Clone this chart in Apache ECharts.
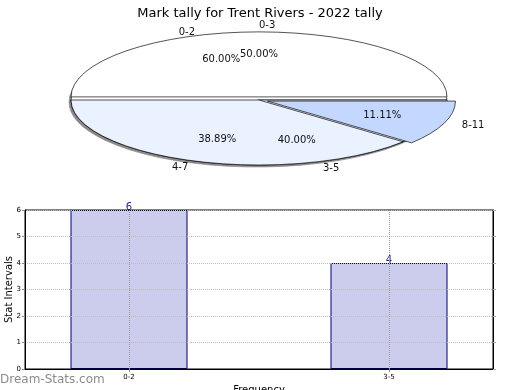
<!DOCTYPE html>
<html><head><meta charset="utf-8">
<script src="https://cdn.jsdelivr.net/npm/echarts@6/dist/echarts.min.js"></script>
<style>html,body{margin:0;padding:0;background:#fff}#c{width:520px;height:390px}</style>
</head><body><div id="c"></div>
<script>
const chartTitle = 'Mark tally for Trent Rivers - 2022 tally';
const pieACats = ['0-2', '3-5'];
const pieAVals = [6, 4];
const pieBCats = ['0-3', '4-7', '8-11'];
const pieBVals = [9, 7, 2];
const barCats = ['0-2', '3-5'];
const barVals = [6, 4];
const barPos = [0, 1];

const FONT = 'DejaVu Sans';
const CX = 259, CY = 100, RX = 188, RY = 65;
const K = RY / RX;
const rad = d => d * Math.PI / 180;

function makePie(cats, vals, colors, explode, withShadow) {
  const total = vals.reduce((a, b) => a + b, 0);
  const starts = [];
  let acc = 0;
  vals.forEach(v => { starts.push(acc); acc += v; });
  return {
    type: 'custom',
    coordinateSystem: 'none',
    silent: true,
    data: vals.map((v, i) => [v, starts[i]]),
    renderItem(params, api) {
      const i = params.dataIndex;
      const v = api.value(0), s = api.value(1);
      const a1 = s / total * 360, a2 = (s + v) / total * 360, am = (a1 + a2) / 2;
      const ca = Math.cos(rad(am)), sa = Math.sin(rad(am));
      const e = explode[i];
      const cx = CX + ca * e, cy = CY - sa * e * K;
      const pct = (v / total * 100).toFixed(2) + '%';
      const children = [];
      if (withShadow) {
        children.push({
          type: 'group', x: cx - 2, y: cy + 2, scaleY: K, z2: -10,
          children: [{
            type: 'sector', z2: -10,
            shape: { cx: 0, cy: 0, r0: 0, r: RX, startAngle: -rad(a1), endAngle: -rad(a2), clockwise: false },
            style: { fill: '#8a8a8a', stroke: '#8a8a8a', lineWidth: 1, strokeNoScale: true }
          }]
        });
      }
      children.push({
        type: 'group', x: cx, y: cy, scaleY: K,
        children: [{
          type: 'sector',
          shape: { cx: 0, cy: 0, r0: 0, r: RX, startAngle: -rad(a1), endAngle: -rad(a2), clockwise: false },
          style: { fill: colors[i], stroke: '#000', lineWidth: 1, strokeNoScale: true }
        }]
      });
      children.push({
        type: 'text', z2: 100,
        x: cx + ca * RX * 0.65, y: cy - sa * RY * 0.65,
        style: { text: pct, font: '10px "' + FONT + '"', fill: '#111', align: 'center', verticalAlign: 'middle' }
      });
      children.push({
        type: 'text', z2: 100,
        x: cx + ca * RX * 1.1, y: cy - sa * RY * 1.1,
        style: { text: cats[i], font: '10px "' + FONT + '"', fill: '#111', align: ca > -1e-9 ? 'left' : 'right', verticalAlign: 'middle' }
      });
      return { type: 'group', children };
    }
  };
}

const chart = echarts.init(document.getElementById('c'), null, { renderer: 'canvas' });
chart.setOption({
  animation: false,
  backgroundColor: '#fff',
  textStyle: { fontFamily: FONT },
  title: {
    text: chartTitle, left: 'center', top: 2,
    textStyle: { fontSize: 13, fontWeight: 'normal', color: '#000', fontFamily: FONT }
  },
  graphic: [{
    type: 'text', left: 0, top: 374,
    style: { text: 'Dream-Stats.com', font: '12px "' + FONT + '"', fill: '#8c8c8c' }
  }],
  grid: {
    left: 25, right: 27, top: 210, bottom: 21, outerBoundsMode: 'none', containLabel: false,
    show: true, borderColor: '#000', borderWidth: 1, backgroundColor: 'transparent', z: 10
  },
  xAxis: {
    type: 'value', min: -0.4, max: 1.4, z: 10,
    name: 'Frequency', nameLocation: 'middle', nameGap: 16, nameMoveOverlap: false,
    nameTextStyle: { fontSize: 10, color: '#000', fontFamily: FONT },
    axisLine: { show: true, onZero: false, lineStyle: { color: '#000', width: 1 } },
    axisTick: { show: true, customValues: barPos, length: 3, lineStyle: { color: '#888' } },
    axisLabel: { customValues: barPos, formatter: v => barCats[barPos.indexOf(v)] || '', fontSize: 7, color: '#000', margin: 5 },
    splitLine: { show: true, lineStyle: { type: 'dotted', color: '#999', width: 1 } }
  },
  yAxis: [{
    type: 'value', min: 0, max: 6, interval: 1, z: 10,
    name: 'Stat Intervals', nameLocation: 'middle', nameGap: 11, nameMoveOverlap: false,
    nameTextStyle: { fontSize: 10, color: '#000', fontFamily: FONT },
    axisLine: { show: true, onZero: false, lineStyle: { color: '#000', width: 1 } },
    axisTick: { show: true, length: 3, lineStyle: { color: '#888' } },
    axisLabel: { fontSize: 7, color: '#000', margin: 4 },
    splitLine: { show: true, lineStyle: { type: 'dotted', color: '#bbb', width: 1 } }
  }, {
    type: 'value', min: 0, max: 6, interval: 1, position: 'right', z: 10,
    axisLine: { show: true, onZero: false, lineStyle: { color: '#000', width: 1 } },
    axisTick: { show: true, length: 3, lineStyle: { color: '#aaa' } },
    axisLabel: { show: false },
    splitLine: { show: false }
  }],
  series: [
    makePie(pieACats, pieAVals, ['#ffffff', '#eaf1ff'], [0, 0], true),
    makePie(pieBCats, pieBVals, ['#ffffff', '#eaf1ff', '#c4d8ff'], [9, 0, 9], false),
    {
      type: 'bar', xAxisIndex: 0, yAxisIndex: 0,
      data: barVals.map((v, i) => [barPos[i], v]),
      barWidth: 117,
      itemStyle: { color: '#ccccec', borderColor: '#000080', borderWidth: 1 },
      label: { show: true, position: 'top', distance: -2, color: '#1a1a99', fontSize: 10, fontFamily: FONT }
    }
  ]
});
</script>
</body></html>
